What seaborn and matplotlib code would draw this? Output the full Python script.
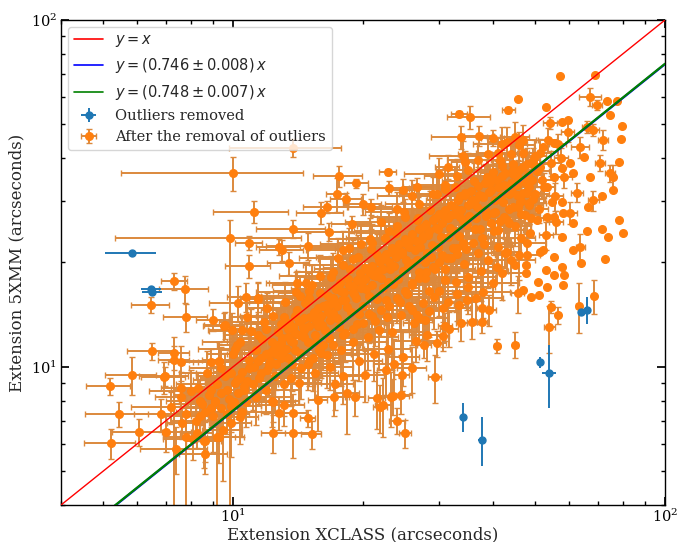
import numpy as np
import matplotlib
matplotlib.use("Agg")
import matplotlib.pyplot as plt
import matplotlib.ticker as mticker
import seaborn as sns

# ---------------- data ----------------
# fit lines
line_x = [4.0, 100.0]
slopes = [1.0, 0.746, 0.748]
line_labels = [r"$y = x$", r"$y = (0.746 \pm 0.008)\,x$", r"$y = (0.748 \pm 0.007)\,x$"]
line_colors = ["red", "blue", "green"]

# outliers removed
out_x = [5.85, 6.47, 6.50, 51.4, 53.9, 34.0, 37.8, 63.9, 66.1]
out_y = [21.3, 16.8, 16.4, 10.3, 9.6, 7.18, 6.17, 14.4, 14.6]
out_xerr = [0.8, 0.35, 0.35, 0.6, 2.0, 0.5, 0.8, 0.6, 0.6]
out_yerr = [0.5, 0.3, 0.3, 0.35, 2.0, 0.7, 1.0, 0.3, 1.3]

# scattered sources (asymmetric y errors)
sp_x = [10.0, 13.8, 11.2, 9.84, 10.9, 12.8, 7.31, 7.74, 6.47, 7.79, 9.0, 9.53, 10.3, 10.9, 11.4,
        6.50, 5.85, 5.18, 6.96, 7.31, 7.58, 7.58, 5.45, 6.06, 5.22, 7.2, 7.79, 7.62, 8.26, 8.62,
        9.19, 22.8, 17.6, 19.3, 17.4, 18.3, 16.5, 16.0, 13.8, 23.0, 24.7, 26.7, 20.9, 20.0, 18.9,
        33.4, 33.8, 31.4, 34.5, 16.7, 14.9, 35.3, 37.2, 40.0, 13.0, 13.5, 14.1, 6.93, 7.31, 10.7,
        11.4, 12.0, 9.58, 10.8, 9.95, 10.5, 8.9, 9.3, 10.2, 12.4, 13.8, 15.2, 14.9, 13.8, 12.8,
        15.7, 17.1, 18.4, 19.2, 21.5, 21.9, 23.5, 24.5, 24.0, 25.0, 8.57, 10.05, 10.4, 12.4, 13.1,
        29.3, 40.9, 45.0, 27.7, 29.6, 30.7, 31.7, 35.8, 33.8, 37.8, 39.2, 31.0, 37.8, 33.4, 34.9,
        63.1, 68.6, 54.0, 23.2, 22.3, 24.6, 22.6, 26.2, 27.9, 26.7]
sp_y = [36.2, 42.8, 28.0, 23.6, 22.8, 22.2, 17.7, 16.8, 15.1, 13.9, 13.7, 13.1, 15.3, 19.5, 15.8,
        11.1, 9.48, 8.81, 9.42, 10.5, 10.3, 8.7, 7.32, 6.50, 6.04, 7.67, 6.28, 6.9, 6.45, 6.12,
        6.28, 36.5, 35.5, 33.9, 31.5, 30.5, 28.9, 27.8, 25.0, 32.8, 32.4, 33.0, 28.9, 29.5, 25.8,
        53.6, 46.0, 37.7, 39.0, 24.5, 22.3, 52.5, 46.4, 45.7, 21.7, 19.9, 17.4, 9.36, 11.0, 15.9,
        15.7, 14.8, 13.2, 13.9, 12.8, 12.8, 10.3, 10.3, 11.6, 6.45, 6.45, 6.4, 7.13, 7.37, 7.37,
        8.03, 8.2, 8.4, 8.2, 8.14, 7.67, 8.25, 8.3, 6.99, 6.45, 6.12, 7.9, 7.18, 7.93, 7.77,
        9.36, 11.5, 11.6, 11.6, 11.7, 12.3, 12.9, 13.5, 13.4, 14.8, 14.6, 13.1, 13.5, 15.1, 15.6,
        15.0, 16.0, 13.0, 8.2, 7.77, 9.5, 9.8, 13.4, 13.7, 14.1]
sp_xerr = [4.5, 4.0, 2.2, 4.5, 0.8, 1.5, 0.5, 1.0, 0.65, 0.9, 0.8, 1.0, 1.5, 1.3, 1.0,
           0.8, 0.8, 0.6, 0.9, 0.6, 0.5, 0.4, 0.9, 0.8, 0.7, 1.4, 0.9, 0.6, 0.7, 0.6,
           0.9, 1.0, 2.3, 1.2, 1.0, 1.5, 2.0, 2.0, 2.5, 2.5, 1.5, 2.0, 2.5, 2.0, 2.0,
           1.5, 5.0, 2.0, 2.5, 3.0, 3.0, 4.0, 3.0, 2.5, 1.5, 1.5, 2.0, 0.8, 0.6, 1.0,
           1.0, 1.2, 1.0, 1.0, 1.2, 1.0, 1.2, 1.0, 1.0, 0.8, 1.5, 0.8, 0.6, 1.0, 1.2,
           0.8, 1.5, 1.2, 1.0, 1.0, 0.8, 2.0, 1.5, 1.0, 0.8, 0.8, 1.0, 1.0, 1.5, 1.5,
           1.0, 0.6, 0.6, 1.0, 1.5, 1.0, 1.5, 1.0, 1.0, 1.0, 1.5, 1.2, 1.0, 1.0, 1.5,
           0.8, 0.8, 1.5, 1.0, 1.0, 1.0, 1.0, 1.5, 1.0, 1.0]
sp_ylo = [4.0, 2.5, 2.0, 20.0, 1.0, 1.2, 1.0, 1.5, 0.8, 1.3, 1.0, 1.2, 1.8, 1.5, 1.8,
          0.6, 1.2, 0.5, 0.6, 6.6, 1.2, 1.0, 0.6, 0.6, 0.6, 0.8, 2.5, 0.7, 0.6, 0.8,
          2.5, 0.8, 2.5, 1.0, 3.5, 1.2, 1.2, 2.0, 1.5, 1.5, 2.5, 2.0, 1.5, 2.0, 1.5,
          1.0, 3.5, 3.0, 3.0, 1.5, 2.0, 4.0, 3.0, 2.5, 1.5, 1.5, 1.5, 1.0, 1.2, 1.5,
          1.8, 1.5, 1.2, 1.5, 1.5, 1.3, 1.0, 1.5, 1.2, 0.8, 1.0, 0.6, 0.4, 1.0, 0.8,
          1.5, 1.0, 2.0, 1.0, 1.5, 1.2, 1.0, 1.0, 0.6, 0.6, 1.0, 1.0, 1.2, 1.0, 1.0,
          1.5, 0.5, 1.0, 1.0, 1.0, 1.2, 1.5, 1.5, 1.5, 1.5, 1.5, 1.2, 1.0, 1.5, 1.0,
          2.5, 1.8, 2.0, 1.5, 1.5, 1.0, 1.5, 1.5, 1.2, 1.5]
sp_yhi = [4.0, 2.5, 2.0, 3.0, 1.0, 1.2, 1.0, 1.5, 0.8, 1.3, 1.0, 1.2, 1.8, 1.5, 1.8,
          0.6, 1.2, 0.5, 0.6, 1.0, 1.2, 1.0, 0.6, 0.6, 0.6, 0.8, 1.5, 0.7, 0.6, 0.8,
          0.8, 0.8, 2.5, 1.0, 3.5, 1.2, 1.2, 2.0, 1.5, 1.5, 2.5, 2.0, 1.5, 2.0, 1.5,
          1.0, 3.5, 3.0, 3.0, 1.5, 2.0, 4.0, 3.0, 2.5, 1.5, 1.5, 1.5, 1.0, 1.2, 1.5,
          1.8, 1.5, 1.2, 1.5, 1.5, 1.3, 1.0, 1.5, 1.2, 0.8, 1.0, 0.6, 0.4, 1.0, 0.8,
          1.5, 1.0, 1.0, 1.0, 1.5, 1.2, 1.0, 1.0, 0.6, 0.6, 2.0, 1.0, 1.2, 1.0, 1.0,
          1.5, 0.5, 1.0, 1.0, 1.0, 1.2, 1.5, 3.0, 1.5, 1.5, 1.5, 1.2, 1.0, 1.5, 1.0,
          2.5, 1.8, 2.0, 1.5, 1.5, 1.0, 1.5, 1.5, 1.2, 1.5]

# dense core of the relation (part 1)
core_x = [8.2, 8.5, 8.8, 9.0, 9.2, 9.4, 9.6, 9.8, 9.9, 10.1, 8.0, 8.7, 9.3, 10.0, 9.5,
          10.3, 10.5, 10.7, 10.9, 11.1, 11.3, 11.5, 11.7, 11.9, 12.1, 12.3, 12.5, 12.7, 12.9, 13.1,
          10.4, 11.0, 11.8, 12.4, 13.0,
          13.3, 13.5, 13.7, 13.9, 14.1, 14.3, 14.5, 14.7, 14.9, 15.1, 15.3, 15.5, 15.7, 15.9, 13.6,
          14.4, 15.2, 13.2, 14.0, 15.8,
          16.1, 16.4, 16.7, 17.0, 17.3, 17.6, 17.9, 18.2, 18.5, 18.8, 19.1, 19.4, 19.7, 20.0, 16.5,
          17.8, 19.0, 16.9, 18.0, 19.5,
          20.3, 20.7, 21.1, 21.5, 21.9, 22.3, 22.7, 23.1, 23.5, 23.9, 24.3, 24.7, 25.0, 20.5, 21.8,
          23.3, 24.5, 20.9, 22.5, 24.0,
          25.4, 25.9, 26.4, 26.9, 27.4, 27.9, 28.4, 28.9, 29.4, 29.9, 30.4, 30.9, 31.4, 31.9, 26.0,
          27.6, 29.2, 30.7, 26.6, 28.6,
          32.4, 33.0, 33.6, 34.2, 34.8, 35.4, 36.0, 36.6, 37.2, 37.8, 38.4, 39.0, 39.6, 32.8, 35.0,
          37.5, 33.5, 36.2, 38.8, 39.5,
          40.5, 41.5, 42.5, 43.5, 44.5, 45.5, 46.5, 47.5, 48.5, 49.5, 41.0, 43.0, 45.0, 42.0, 44.0,
          46.0, 48.0, 49.0,
          50.5, 51.5, 52.5, 53.5, 54.5, 55.5, 56.5, 57.5, 58.5, 59.5, 51.0, 53.0, 56.0]
core_y = [7.0, 7.8, 8.3, 7.2, 8.9, 7.6, 9.4, 8.1, 6.9, 9.0, 8.5, 9.6, 10.4, 10.9, 6.6,
          8.4, 9.7, 7.9, 10.5, 8.9, 11.2, 9.3, 12.0, 8.6, 10.1, 11.8, 9.4, 12.6, 10.6, 8.9,
          11.8, 12.7, 13.5, 14.0, 12.1,
          11.3, 13.4, 10.2, 12.5, 14.6, 11.0, 13.0, 15.3, 11.8, 13.9, 10.6, 12.4, 14.8, 16.3, 9.3,
          9.9, 17.2, 15.4, 16.4, 11.2,
          13.2, 15.1, 12.1, 14.3, 16.8, 13.0, 15.6, 12.5, 17.9, 14.4, 16.2, 13.3, 18.6, 15.0, 10.8,
          11.2, 11.8, 18.2, 19.7, 20.8,
          16.8, 14.2, 18.4, 15.7, 20.1, 16.9, 13.9, 19.2, 17.3, 21.6, 15.4, 18.9, 22.7, 12.2, 12.8,
          12.6, 14.1, 21.9, 23.6, 25.5,
          19.6, 17.2, 21.7, 18.8, 23.4, 20.1, 16.6, 22.5, 19.2, 25.0, 21.0, 17.8, 23.7, 27.4, 14.6,
          15.3, 15.9, 14.8, 26.5, 28.3,
          24.6, 21.2, 27.0, 19.8, 25.6, 29.4, 22.8, 26.8, 31.2, 23.6, 28.4, 20.4, 32.4, 17.6, 18.2,
          18.9, 31.0, 34.4, 35.2, 26.0,
          30.3, 26.3, 33.5, 28.6, 36.1, 31.4, 23.5, 34.2, 29.2, 38.4, 22.2, 21.5, 25.5, 38.0, 41.2,
          43.5, 31.8, 26.8,
          36.8, 41.5, 33.0, 45.2, 38.6, 31.0, 43.8, 40.0, 35.2, 47.5, 28.5, 24.0, 26.2]
core_xerr = [1.0, 1.2, 1.5, 1.0, 1.8, 1.2, 1.4, 2.0, 1.1, 1.5, 1.6, 1.2, 1.7, 1.3, 1.0,
             2.2, 1.5, 1.8, 2.4, 1.6, 2.0, 2.7, 1.9, 2.3, 1.8, 2.6, 2.1, 2.9, 2.0, 2.4,
             1.9, 2.2, 2.5, 2.0, 3.0,
             2.4, 2.8, 2.1, 3.1, 2.5, 2.9, 2.2, 3.3, 2.6, 3.0, 2.4, 3.4, 2.7, 3.2, 2.0,
             2.6, 2.9, 2.3, 2.7, 3.0,
             3.1, 2.6, 3.5, 2.9, 3.7, 3.0, 3.3, 2.8, 3.9, 3.2, 3.6, 3.0, 4.0, 3.4, 2.9,
             3.3, 3.6, 3.0, 3.5, 3.9,
             3.8, 4.2, 3.5, 4.4, 3.9, 4.6, 3.7, 4.3, 4.8, 4.0, 4.5, 3.9, 4.7, 3.6, 4.0,
             4.4, 4.1, 3.7, 4.2, 4.6,
             4.9, 4.3, 5.1, 4.6, 5.3, 4.8, 5.0, 5.5, 4.7, 5.2, 5.6, 4.9, 5.4, 5.8, 4.4,
             4.9, 5.2, 4.6, 4.8, 5.3,
             5.5, 5.9, 5.2, 6.1, 5.6, 5.3, 6.3, 5.7, 6.0, 5.4, 6.4, 5.8, 6.2, 5.0, 5.5,
             5.9, 5.4, 5.8, 6.0, 6.1,
             5.0, 4.5, 5.2, 4.0, 4.8, 4.2, 3.5, 4.6, 3.8, 4.4, 3.6, 3.4, 3.9, 4.5, 4.2,
             3.8, 3.5, 3.2,
             3.5, 3.0, 3.2, 2.8, 3.0, 2.5, 2.6, 2.2, 2.4, 2.0, 2.5, 2.0, 2.0]
core_yerr = [0.9, 1.0, 1.2, 1.5, 1.0, 1.3, 1.6, 1.1, 1.4, 1.2, 1.3, 1.5, 1.4, 1.8, 1.9,
             1.3, 1.6, 1.2, 1.9, 1.4, 1.7, 1.5, 2.1, 1.3, 1.8, 1.6, 2.0, 1.9, 1.5, 1.7,
             1.8, 2.0, 2.2, 1.9, 2.1,
             1.8, 2.3, 1.7, 2.0, 2.4, 1.9, 2.2, 2.0, 2.5, 1.9, 2.1, 2.3, 2.6, 2.2, 1.6,
             1.8, 2.5, 2.2, 2.4, 2.0,
             2.2, 2.6, 2.0, 2.5, 2.3, 2.7, 2.4, 2.2, 2.8, 2.5, 2.9, 2.3, 3.0, 2.6, 2.1,
             2.4, 2.6, 2.7, 3.1, 3.2,
             2.9, 2.5, 3.2, 2.8, 3.4, 2.9, 3.1, 3.3, 3.0, 3.6, 2.7, 3.4, 3.5, 2.4, 3.0,
             2.8, 3.3, 3.1, 3.4, 3.2,
             3.5, 3.2, 3.8, 3.3, 3.6, 3.9, 3.1, 3.7, 3.4, 4.0, 3.5, 3.2, 3.9, 4.1, 3.0,
             3.3, 3.0, 3.4, 3.7, 3.9,
             3.8, 3.6, 4.1, 3.4, 3.9, 4.3, 3.7, 4.0, 4.2, 3.8, 4.4, 3.5, 4.5, 3.2, 3.3,
             3.4, 4.0, 4.2, 4.3, 3.9,
             4.0, 3.5, 4.2, 3.6, 4.4, 3.8, 3.0, 4.0, 3.4, 4.5, 2.8, 2.9, 3.2, 4.2, 4.5,
             4.2, 3.6, 3.0,
             3.8, 4.0, 3.3, 3.5, 3.2, 2.8, 3.0, 2.8, 2.5, 3.0, 2.5, 2.2, 2.0]

# dense core of the relation (part 2)
core2_x = [9.1, 9.7, 10.2, 10.6, 11.2, 11.6, 12.0, 12.2, 12.6, 9.4, 10.8, 11.4, 12.8, 10.1, 11.9,
           9.9, 10.5, 11.3, 12.3, 12.9,
           13.4, 13.8, 14.2, 14.6, 15.0, 15.4, 15.6, 16.0, 16.3, 16.6, 16.8, 13.1, 14.8, 15.9, 16.2,
           13.9, 14.9, 15.7, 16.9, 14.3,
           17.1, 17.4, 17.7, 18.1, 18.4, 18.7, 19.0, 19.3, 19.6, 19.9, 20.2, 20.6, 21.0, 21.3, 21.7,
           17.5, 18.6, 19.8, 20.8, 21.6,
           22.0, 22.4, 22.8, 23.2, 23.6, 24.1, 24.6, 25.1, 25.6, 26.1, 26.6, 27.1, 27.6, 28.1, 22.6,
           23.8, 25.3, 26.8, 27.8, 24.9,
           28.3, 28.8, 29.3, 29.8, 30.3, 30.8, 31.3, 31.8, 32.3, 32.9, 33.4, 34.0, 34.6, 35.2, 35.8,
           29.6, 31.0, 32.6, 34.4, 36.4,
           36.8, 37.4, 38.0, 38.6, 39.3, 40.0, 40.8, 41.7, 42.6, 43.6, 44.6, 45.8, 47.0, 37.0, 38.2,
           40.2, 42.2, 44.2, 46.2, 48.2,
           7.0, 7.4, 7.8, 8.1, 8.4, 8.9, 9.3, 7.6, 8.3, 9.7, 6.8, 8.6,
           14.2, 15.5, 16.8, 18.0, 19.6, 21.2, 22.9, 24.8, 26.5, 28.2, 17.2, 20.2, 23.6, 26.0]
core2_y = [8.0, 8.6, 9.2, 8.8, 10.0, 10.6, 9.8, 11.0, 10.9, 9.9, 9.1, 12.4, 11.4, 11.3, 12.9,
           7.7, 7.4, 8.2, 8.0, 13.3,
           12.9, 11.8, 13.6, 12.2, 15.8, 14.2, 11.8, 14.0, 12.8, 16.0, 13.7, 13.9, 17.5, 18.3, 11.6,
           14.0, 10.2, 13.1, 15.2, 16.0,
           15.5, 13.8, 17.4, 16.4, 14.9, 19.2, 17.1, 15.8, 14.2, 17.6, 19.3, 16.0, 17.2, 13.6, 18.9,
           20.6, 22.0, 22.6, 23.4, 21.0,
           18.0, 20.6, 17.6, 21.4, 19.6, 17.9, 21.1, 20.3, 23.0, 19.9, 20.4, 22.2, 25.3, 21.3, 15.6,
           24.4, 16.2, 26.9, 18.1, 28.0,
           24.0, 20.8, 26.8, 22.1, 23.7, 27.3, 20.6, 25.2, 22.0, 28.6, 23.8, 26.4, 21.9, 27.2, 30.3,
           31.5, 32.6, 33.0, 31.8, 24.9,
           29.0, 25.0, 30.8, 27.2, 33.8, 27.8, 34.6, 31.0, 36.2, 33.0, 38.4, 35.0, 37.8, 21.3, 22.6,
           24.6, 29.8, 32.0, 29.8, 35.8,
           6.5, 5.8, 7.3, 6.2, 7.2, 7.6, 6.3, 8.2, 8.7, 7.3, 7.3, 5.6,
           9.0, 9.6, 10.0, 9.4, 10.4, 10.9, 11.3, 10.7, 11.9, 12.4, 8.9, 9.5, 10.2, 9.9]
core2_xerr = [1.6, 1.9, 2.1, 1.7, 2.3, 1.8, 2.4, 2.0, 2.6, 1.5, 2.2, 1.9, 2.5, 1.8, 2.1,
              1.7, 2.0, 2.4, 1.9, 2.3,
              2.5, 2.9, 2.4, 3.1, 2.8, 3.3, 2.6, 3.0, 3.4, 2.7, 3.2, 2.3, 2.9, 3.1, 3.5,
              2.6, 2.8, 3.0, 3.3, 2.7,
              3.4, 3.0, 3.6, 3.2, 3.8, 3.3, 3.5, 3.9, 3.1, 3.7, 4.0, 3.4, 3.8, 3.2, 4.1,
              3.3, 3.6, 3.9, 4.2, 3.7,
              4.2, 4.5, 3.9, 4.6, 4.3, 4.8, 4.1, 4.9, 4.4, 5.0, 4.7, 5.2, 4.6, 5.1, 4.0,
              4.5, 4.8, 5.3, 5.0, 4.7,
              5.1, 5.4, 4.9, 5.6, 5.2, 5.7, 5.0, 5.8, 5.3, 6.0, 5.5, 6.1, 5.4, 6.2, 5.6,
              5.0, 5.5, 5.9, 6.0, 6.3,
              5.9, 6.3, 5.6, 6.4, 5.8, 6.0, 5.5, 5.8, 5.2, 5.0, 4.8, 4.5, 4.2, 5.8, 6.0,
              5.6, 5.3, 5.0, 4.6, 4.0,
              1.0, 1.3, 0.9, 1.2, 1.4, 1.1, 1.3, 1.0, 1.5, 1.2, 0.9, 1.1,
              1.8, 2.0, 2.2, 1.9, 2.5, 2.4, 2.8, 2.2, 3.0, 2.6, 1.8, 2.2, 2.5, 2.0]
core2_yerr = [1.2, 1.4, 1.5, 1.3, 1.6, 1.8, 1.4, 1.7, 1.9, 1.5, 1.3, 2.0, 1.6, 1.8, 2.1,
              1.2, 1.1, 1.4, 1.3, 2.0,
              2.0, 1.8, 2.2, 1.9, 2.4, 2.1, 1.8, 2.3, 2.0, 2.5, 2.1, 2.2, 2.6, 2.7, 1.8,
              2.2, 1.6, 2.0, 2.4, 2.3,
              2.4, 2.2, 2.7, 2.5, 2.3, 2.9, 2.6, 2.4, 2.2, 2.7, 2.9, 2.5, 2.6, 2.1, 2.8,
              3.0, 3.2, 3.3, 3.4, 3.1,
              2.7, 3.0, 2.6, 3.2, 2.9, 2.7, 3.1, 3.0, 3.4, 3.0, 3.1, 3.3, 3.7, 3.2, 2.4,
              3.6, 2.5, 3.9, 2.8, 4.0,
              3.5, 3.1, 3.9, 3.3, 3.5, 3.9, 3.1, 3.7, 3.3, 4.1, 3.5, 3.8, 3.2, 3.9, 4.3,
              4.4, 4.5, 4.6, 4.4, 3.6,
              4.1, 3.6, 4.3, 3.9, 4.6, 3.9, 4.7, 4.3, 4.9, 4.5, 5.0, 4.6, 4.8, 3.2, 3.4,
              3.6, 4.1, 4.3, 4.0, 4.5,
              0.8, 0.9, 1.0, 0.8, 1.1, 0.9, 1.0, 1.2, 1.0, 0.9, 0.8, 0.7,
              1.2, 1.5, 1.4, 1.6, 1.3, 1.8, 1.5, 1.9, 1.6, 2.0, 1.4, 1.6, 1.8, 1.5]

# dense core of the relation (part 3)
core3_x = [12.2, 12.6, 13.0, 13.4, 13.8, 14.2, 14.6, 15.0, 15.4, 15.8, 16.2, 16.6, 17.0, 17.4,
           17.8, 18.2, 18.6, 19.0, 19.4, 19.8,
           20.2, 20.6, 21.0, 21.4, 21.8, 22.2, 22.6, 23.0, 23.4, 23.8, 24.2, 24.6, 25.0, 25.5,
           26.0, 26.5, 27.0, 27.5, 28.0, 28.5,
           29.0, 29.5, 30.0, 30.5, 31.0, 31.5, 32.0, 32.6, 33.2, 33.8, 34.4, 35.0, 35.6, 36.3,
           37.0, 37.7, 38.4, 39.2, 40.0, 41.0,
           15.0, 17.0, 19.0, 21.0, 23.0, 25.0, 27.0, 29.0, 31.0, 33.0, 35.0, 37.0, 39.0, 42.0,
           22.0, 26.0, 30.0, 34.0, 18.0, 24.0,
           25.5, 27.0, 28.5, 30.0, 31.5, 33.0, 35.0, 36.5, 38.0, 40.0, 42.0, 44.0, 46.0, 48.0,
           41.0, 43.5, 46.5, 48.5, 50.0, 52.0]
core3_y = [10.4, 11.6, 11.0, 12.2, 13.0, 12.4, 13.8, 13.1, 14.4, 13.6, 15.0, 14.4, 15.8, 15.0,
           16.6, 15.6, 17.2, 16.4, 17.8, 16.9,
           17.9, 18.8, 19.6, 18.3, 20.4, 19.1, 21.2, 20.0, 22.0, 20.7, 22.6, 21.5, 23.4, 22.2,
           24.2, 23.0, 25.0, 23.8, 25.8, 24.6,
           26.6, 25.2, 27.6, 26.0, 28.4, 26.8, 29.2, 27.6, 30.2, 28.4, 31.2, 29.2, 32.2, 30.2,
           33.2, 31.0, 34.0, 32.0, 35.0, 33.0,
           16.5, 18.8, 20.5, 22.8, 24.6, 27.0, 29.5, 31.5, 33.4, 35.5, 37.0, 39.5, 41.0, 44.0,
           26.2, 31.0, 36.0, 40.5, 21.8, 28.6,
           15.0, 13.8, 14.5, 16.6, 15.4, 16.2, 17.0, 15.8, 16.4, 17.4, 18.6, 20.4, 21.0, 22.8,
           24.8, 26.0, 27.6, 29.6, 31.6, 34.5]
core3_xerr = [2.0, 2.2, 2.4, 2.1, 2.5, 2.3, 2.6, 2.2, 2.8, 2.4, 2.9, 2.6, 3.0, 2.7,
              3.2, 2.8, 3.3, 2.9, 3.5, 3.1,
              3.4, 3.6, 3.3, 3.8, 3.5, 3.9, 3.6, 4.1, 3.7, 4.2, 3.9, 4.4, 4.0, 4.5,
              4.2, 4.7, 4.4, 4.8, 4.5, 5.0,
              4.7, 5.1, 4.8, 5.2, 4.9, 5.4, 5.0, 5.5, 5.2, 5.7, 5.3, 5.8, 5.5, 6.0,
              5.6, 6.1, 5.8, 6.2, 6.0, 6.3,
              2.6, 3.0, 3.3, 3.6, 3.9, 4.2, 4.5, 4.8, 5.0, 5.3, 5.5, 5.7, 5.9, 6.0,
              3.8, 4.4, 5.1, 5.6, 3.2, 4.1,
              4.0, 4.3, 4.6, 4.8, 5.0, 5.2, 5.5, 5.6, 5.8, 6.0, 6.2, 6.0, 5.5, 5.0,
              6.0, 5.5, 5.0, 4.5, 4.0, 3.5]
core3_yerr = [1.5, 1.7, 1.6, 1.8, 1.9, 1.7, 2.0, 1.8, 2.1, 1.9, 2.2, 2.0, 2.3, 2.1,
              2.4, 2.2, 2.5, 2.3, 2.6, 2.4,
              2.5, 2.7, 2.6, 2.8, 2.7, 2.9, 2.8, 3.0, 2.9, 3.1, 3.0, 3.2, 3.1, 3.3,
              3.2, 3.4, 3.3, 3.5, 3.4, 3.6,
              3.6, 3.5, 3.8, 3.6, 3.9, 3.7, 4.0, 3.8, 4.1, 3.9, 4.2, 4.0, 4.3, 4.1,
              4.4, 4.2, 4.5, 4.3, 4.6, 4.4,
              2.2, 2.5, 2.7, 3.0, 3.2, 3.4, 3.6, 3.8, 4.0, 4.2, 4.4, 4.6, 4.8, 5.0,
              3.1, 3.5, 3.9, 4.3, 2.8, 3.3,
              2.4, 2.2, 2.3, 2.6, 2.5, 2.6, 2.8, 2.5, 2.6, 2.8, 3.0, 3.2, 3.2, 3.4,
              3.5, 3.6, 3.8, 3.8, 3.9, 4.0]

# dense core of the relation (part 4)
core4_x = [8.4, 8.9, 9.4, 9.9, 10.4, 10.9, 11.4, 11.9, 12.4, 12.9, 13.4, 13.9, 8.6, 9.1,
           10.6, 11.6, 12.6, 13.6, 14.6, 15.6,
           15.0, 16.0, 17.0, 18.0, 19.0, 20.0, 21.0, 22.0, 23.0, 24.0, 25.0, 26.0, 27.0, 28.0,
           29.0, 30.0, 31.0, 32.0, 33.0, 34.0,
           40.5, 41.5, 42.5, 43.5, 44.5, 45.5, 46.5, 47.5, 48.5, 49.5, 40.0, 42.0, 44.0, 46.0,
           48.0, 50.0, 41.0, 43.0, 45.0, 47.0]
core4_y = [8.0, 8.6, 8.4, 9.6, 9.3, 9.9, 10.4, 10.9, 11.2, 11.7, 10.6, 11.2, 7.4, 7.9,
           8.6, 9.6, 10.2, 11.9, 12.8, 13.6,
           10.4, 11.0, 11.6, 12.4, 12.9, 13.4, 14.0, 14.6, 15.0, 15.8, 16.6, 17.4, 18.0, 18.8,
           19.4, 20.0, 19.2, 20.6, 22.0, 22.8,
           28.0, 30.5, 27.0, 31.5, 29.0, 33.5, 30.0, 27.5, 33.0, 30.5, 36.5, 35.5, 34.0, 37.0,
           38.5, 40.5, 41.5, 44.5, 46.0, 45.0]
core4_xerr = [1.4, 1.6, 1.8, 1.7, 2.0, 1.9, 2.1, 2.2, 2.3, 2.4, 2.5, 2.6, 1.2, 1.3,
              1.8, 2.0, 2.2, 2.4, 2.6, 2.8,
              2.6, 2.8, 3.0, 3.2, 3.4, 3.5, 3.7, 3.9, 4.0, 4.2, 4.4, 4.6, 4.7, 4.9,
              5.0, 5.2, 5.4, 5.5, 5.7, 5.8,
              4.5, 4.0, 4.8, 3.8, 4.4, 3.6, 4.2, 3.5, 3.8, 3.2, 5.0, 4.6, 4.2, 3.8,
              3.4, 3.0, 4.5, 4.0, 3.5, 3.2]
core4_yerr = [1.2, 1.3, 1.2, 1.5, 1.4, 1.5, 1.6, 1.7, 1.7, 1.8, 1.6, 1.7, 1.1, 1.2,
              1.3, 1.5, 1.6, 1.8, 1.9, 2.0,
              1.6, 1.7, 1.8, 1.9, 2.0, 2.1, 2.2, 2.3, 2.3, 2.4, 2.5, 2.6, 2.7, 2.8,
              2.9, 3.0, 2.9, 3.1, 3.3, 3.4,
              3.5, 3.8, 3.3, 3.9, 3.6, 4.0, 3.7, 3.4, 3.9, 3.6, 4.2, 4.1, 3.9, 4.2,
              4.4, 4.5, 4.6, 4.8, 4.9, 4.7]

# bright/large sources (mostly tiny errors)
hi_x = [57.1, 68.9, 45.7, 67.1, 69.6, 73.5, 77.5, 53.1, 43.4, 54.2, 57.8, 59.6, 66.1, 74.6,
        79.6, 68.3, 71.8, 78.9, 63.7, 64.8, 60.4, 70.7, 78.1, 74.6, 75.6, 57.8, 55.2, 61.4,
        67.1, 51.4, 53.3, 62.7, 68.3, 75.6, 54.9, 57.8, 55.2, 60.4, 66.5, 71.5, 78.1, 80.0,
        71.5, 73.9, 66.1, 61.4, 58.2, 53.3, 57.8, 63.7, 61.1, 72.7, 55.2, 52.2, 48.8, 50.6,
        45.6, 43.0, 47.0, 49.3, 44.6, 41.6, 47.0, 49.5, 52.2, 55.2,
        64.0, 57.8, 58.4, 55.2, 53.1, 58.2, 53.3, 50.9, 51.1, 48.9, 47.0, 45.6, 47.7, 47.7,
        54.6, 56.5, 40.9, 45.0, 47.9, 42.7, 51.4]
hi_y = [69.0, 69.4, 59.2, 60.0, 56.9, 58.6, 58.6, 56.1, 55.1, 50.5, 50.9, 51.5, 49.2, 53.2,
        49.5, 48.2, 45.2, 45.4, 43.1, 40.3, 38.7, 38.7, 39.0, 36.2, 35.3, 37.5, 35.3, 36.2,
        35.3, 37.7, 33.0, 31.8, 30.2, 32.4, 29.9, 29.8, 27.0, 27.8, 28.9, 31.0, 26.5, 24.3,
        24.9, 23.7, 24.6, 26.0, 27.8, 27.0, 23.7, 22.2, 21.7, 20.5, 20.7, 21.7, 24.3, 26.5,
        28.9, 26.5, 31.8, 34.5, 36.9, 39.4, 41.3, 39.4, 43.1, 44.2,
        19.9, 19.4, 18.4, 18.4, 19.0, 17.2, 17.0, 17.6, 16.1, 15.9, 16.7, 16.3, 18.7, 19.7,
        14.9, 14.1, 19.4, 19.7, 21.0, 21.3, 21.4]
hi_xerr = [0, 0, 0, 4.0, 2.0, 0, 0, 0, 1.5, 2.0, 0, 0, 2.0, 0,
           0, 2.0, 2.0, 0, 3.0, 0, 0, 2.0, 0, 2.0, 0, 0, 0, 0,
           0, 0, 0, 2.0, 2.0, 0, 0, 0, 0, 2.0, 0, 0, 0, 0,
           0, 0, 0, 0, 0, 0, 0, 1.5, 0, 0, 0, 0, 0, 0,
           2.0, 2.0, 0, 0, 0, 2.0, 0, 2.0, 0, 0,
           0, 0, 0, 0, 0, 0, 0, 0, 0, 0, 0, 1.5, 0, 0,
           0.8, 0.5, 2.0, 0, 0, 2.0, 0]
hi_yerr = [0, 0, 0, 3.5, 2.0, 0, 0, 0, 1.0, 2.0, 0, 0, 2.0, 0,
           0, 2.0, 3.0, 0, 3.0, 0, 0, 2.0, 0, 2.0, 3.0, 0, 0, 0,
           0, 0, 0, 2.0, 2.0, 0, 0, 0, 0, 2.0, 0, 0, 0, 0,
           0, 0, 0, 0, 0, 0, 0, 2.0, 0, 0, 0, 0, 0, 0,
           2.0, 2.0, 0, 0, 0, 2.0, 0, 2.0, 0, 0,
           0, 0, 0, 0, 0, 0, 0, 0, 0, 0, 0, 2.0, 0, 0,
           0.6, 0.8, 2.0, 0, 0, 2.0, 0]

# ---------------- style ----------------
sns.set_theme(style="ticks")
plt.rcParams.update({
    "font.family": ["DejaVu Serif"],
    "font.size": 10.5,
    "mathtext.fontset": "dejavusans",
    "axes.edgecolor": "black",
    "axes.linewidth": 1.0,
    "xtick.direction": "in",
    "ytick.direction": "in",
    "xtick.top": True,
    "ytick.right": True,
    "xtick.major.size": 5.5,
    "ytick.major.size": 5.5,
    "xtick.minor.size": 3.0,
    "ytick.minor.size": 3.0,
    "xtick.major.pad": 2.0,
    "ytick.major.pad": 3.0,
    "xtick.color": "black",
    "ytick.color": "black",
    "xtick.labelsize": 10.5,
    "ytick.labelsize": 10.5,
})

fig = plt.figure(figsize=(6.78, 5.42), dpi=100)
ax = fig.add_axes([61 / 678, 37 / 542, 604 / 678, 485 / 542])
ax.set_xscale("log")
ax.set_yscale("log")

orange = "#ff7f0e"
ecol = "#dc893c"
blue_pt = "#1f77b4"

# outliers (first so that legend order matches)
ax.errorbar(out_x, out_y, xerr=out_xerr, yerr=out_yerr, fmt="o", color=blue_pt,
            ecolor=blue_pt, markersize=5, elinewidth=1.4, capsize=0, zorder=4,
            label="Outliers removed")

kw = dict(fmt="o", color=orange, ecolor=ecol, markersize=5.5, elinewidth=1.4,
          capsize=2.2, capthick=1.0, zorder=2)
ax.errorbar(core_x, core_y, xerr=core_xerr, yerr=core_yerr, label="_core", **kw)
ax.errorbar(core2_x, core2_y, xerr=core2_xerr, yerr=core2_yerr, label="_core2", **kw)
ax.errorbar(core3_x, core3_y, xerr=core3_xerr, yerr=core3_yerr, label="_core3", **kw)
ax.errorbar(core4_x, core4_y, xerr=core4_xerr, yerr=core4_yerr, label="_core4", **kw)
ax.errorbar(sp_x, sp_y, xerr=sp_xerr, yerr=[sp_ylo, sp_yhi], label="_sparse", **kw)
ax.errorbar(hi_x, hi_y, xerr=hi_xerr, yerr=hi_yerr,
            label="After the removal of outliers", **kw)

for s, lab, col in zip(slopes, line_labels, line_colors):
    sns.lineplot(x=line_x, y=[s * v for v in line_x], color=col, lw=1.0 if s == 1.0 else 1.6,
                 label=lab, ax=ax, zorder=5)

ax.set_xlim(4.0, 100)
ax.set_ylim(4.0, 100)
ax.yaxis.set_minor_formatter(mticker.NullFormatter())
ax.xaxis.set_minor_formatter(mticker.NullFormatter())
ax.set_xlabel("Extension XCLASS (arcseconds)", labelpad=1)
ax.set_ylabel("Extension 5XMM (arcseconds)", labelpad=4)

leg = ax.legend(loc="upper left", fontsize=10.5, frameon=True, fancybox=True,
                framealpha=0.8, edgecolor="#cccccc", borderaxespad=0.5)
for line in leg.get_lines():
    line.set_linewidth(1.2)

fig.savefig("out.png", dpi=100)
